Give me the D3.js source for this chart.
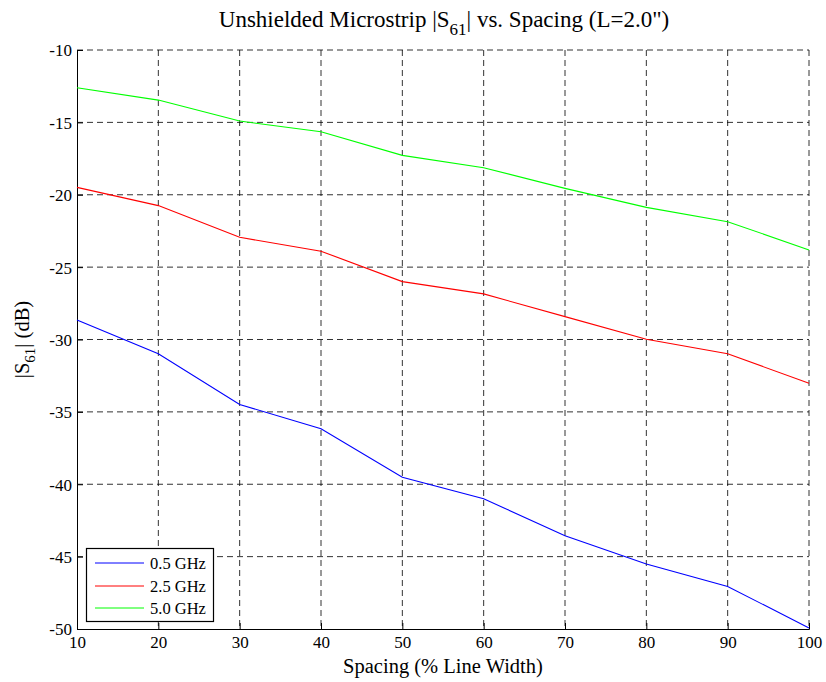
<!DOCTYPE html>
<html><head><meta charset="utf-8">
<script src="https://cdn.jsdelivr.net/npm/d3@7"></script>
<style>body{margin:0;background:#fff}svg{display:block}text{font-family:"Liberation Serif","Times New Roman",serif;fill:#000}</style>
</head><body>
<script>
const spacing = [10,20,30,40,50,60,70,80,90,100];
const s05 = [-28.65,-30.99,-34.49,-36.17,-39.52,-41.0,-43.56,-45.51,-47.06,-49.93];
const s25 = [-19.49,-20.75,-22.94,-23.90,-26.0,-26.85,-28.42,-29.98,-30.99,-33.02];
const s50 = [-12.61,-13.46,-14.91,-15.65,-17.28,-18.13,-19.56,-20.87,-21.86,-23.81];
const seriesNames = ["0.5 GHz","2.5 GHz","5.0 GHz"];
const seriesColors = ["#0000ff","#ff0000","#00ff00"];
const xTicks = [10,20,30,40,50,60,70,80,90,100];
const yTicks = [-50,-45,-40,-35,-30,-25,-20,-15,-10];

const W=826,H=682, L=77,R=809,T=50,B=629;
const svg=d3.select("body").append("svg").attr("width",W).attr("height",H);
const x=d3.scaleLinear().domain([10,100]).range([L,R]);
const y=d3.scaleLinear().domain([-50,-10]).range([B,T]);

// grid
const g=svg.append("g");
g.selectAll(".gx").data(xTicks.slice(1)).join("line")
 .attr("x1",d=>x(d)).attr("x2",d=>x(d)).attr("y1",T).attr("y2",B)
 .attr("stroke","#000").attr("stroke-width",1).attr("stroke-dasharray","6,4").attr("opacity",0.8);
g.selectAll(".gy").data(yTicks.slice(1)).join("line")
 .attr("x1",L).attr("x2",R).attr("y1",d=>y(d)).attr("y2",d=>y(d))
 .attr("stroke","#000").attr("stroke-width",1).attr("stroke-dasharray","6,4").attr("opacity",0.8);

// axes
const fmt=d=>String(d);
const xa=svg.append("g").attr("transform",`translate(0,${B})`)
 .call(d3.axisBottom(x).tickValues(xTicks).tickSize(-6).tickPadding(10).tickFormat(fmt));
const ya=svg.append("g").attr("transform",`translate(${L},0)`)
 .call(d3.axisLeft(y).tickValues(yTicks).tickSize(-6).tickPadding(5).tickFormat(fmt));
[xa,ya].forEach(a=>{a.attr("font-family",null);a.selectAll("text").style("font-size","17px");
 a.selectAll("line,path").attr("stroke","#000");});
xa.selectAll(".tick text").attr("dy","0.55em");
ya.selectAll(".tick text").attr("dy","0.35em").attr("x",-5);

// lines
const data=[s05,s25,s50];
const line=d3.line().x((d,i)=>x(spacing[i])).y(d=>y(d));
svg.append("g").selectAll("path").data(data).join("path")
 .attr("d",line).attr("fill","none").attr("stroke",(d,i)=>seriesColors[i]).attr("stroke-width",1.1);

// title
const title=svg.append("text").attr("x",(L+R)/2+1).attr("y",27).attr("text-anchor","middle").style("font-size","23px");
title.append("tspan").text("Unshielded Microstrip |S");
title.append("tspan").attr("dy",8).style("font-size","17px").text("61");
title.append("tspan").attr("dy",-8).text("| vs. Spacing (L=2.0\")");

// x label
svg.append("text").attr("x",(L+R)/2).attr("y",673).attr("text-anchor","middle").style("font-size","20.5px").text("Spacing (% Line Width)");
// y label
const yl=svg.append("text").attr("transform",`translate(29,${(T+B)/2}) rotate(-90)`).attr("text-anchor","middle").style("font-size","20.5px");
yl.append("tspan").text("|S");
yl.append("tspan").attr("dy",6).style("font-size","15px").text("61");
yl.append("tspan").attr("dy",-6).text("| (dB)");

// legend
const lg=svg.append("g");
lg.append("rect").attr("x",86.5).attr("y",548.5).attr("width",127).attr("height",73).attr("fill","#fff").attr("stroke","#000").attr("stroke-width",1.2);
seriesNames.forEach((n,i)=>{
  const yy=Math.round(563+i*22.6);
  lg.append("line").attr("x1",95).attr("x2",144).attr("y1",yy).attr("y2",yy).attr("stroke",seriesColors[i]).attr("stroke-width",1);
  lg.append("text").attr("x",150).attr("y",yy).attr("dy","0.35em").style("font-size","16.5px").text(n);
});
</script>
</body></html>
